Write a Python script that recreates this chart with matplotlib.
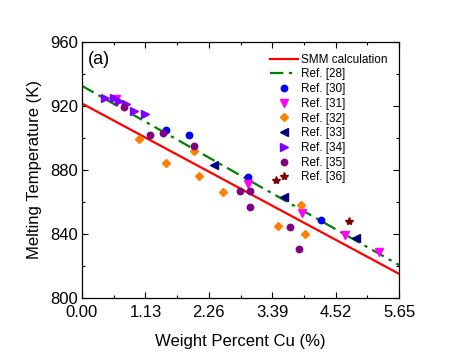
import matplotlib
matplotlib.use("Agg")
import matplotlib.pyplot as plt
from matplotlib.ticker import MultipleLocator, FixedLocator
import numpy as np

plt.rcParams['font.family'] = ['Liberation Sans', 'DejaVu Sans']

# Lines (endpoints)
smm_x = [0.0, 5.65]
smm_y = [921.5, 815.0]
ref28_x = [0.0, 5.65]
ref28_y = [932.5, 820.5]

# Scatter data
ref30_x = [1.50, 1.91, 2.96, 4.25]
ref30_y = [905.0, 902.0, 875.5, 848.5]
ref31_x = [0.60, 2.95, 3.92, 4.68, 5.29]
ref31_y = [924.5, 871.0, 853.0, 839.0, 828.5]
ref32_x = [1.02, 1.49, 2.00, 2.09, 2.51, 3.49, 3.90, 3.98]
ref32_y = [899.0, 884.0, 891.5, 876.0, 866.0, 845.0, 858.0, 840.0]
ref33_x = [2.36, 3.60, 4.88]
ref33_y = [883.0, 863.0, 837.5]
ref34_x = [0.41, 0.57, 0.66, 0.78, 0.92, 1.13]
ref34_y = [925.0, 925.0, 923.0, 921.0, 917.0, 915.0]
ref35_x = [0.75, 1.21, 1.44, 2.00, 2.82, 3.00, 3.00, 3.70, 3.87]
ref35_y = [919.5, 902.0, 903.0, 895.0, 867.0, 867.0, 856.5, 844.0, 830.5]
ref36_x = [3.45, 4.75]
ref36_y = [873.5, 848.0]

xticks = [0.00, 1.13, 2.26, 3.39, 4.52, 5.65]
xticklabels = ["0.00", "1.13", "2.26", "3.39", "4.52", "5.65"]
yticks = [800, 840, 880, 920, 960]

fig = plt.figure(figsize=(4.63, 3.58), dpi=100)
ax = fig.add_axes([0.177, 0.168, 0.685, 0.715])

ax.plot(smm_x, smm_y, color='#FF0000', lw=1.6, label='SMM calculation')
ax.plot(ref28_x, ref28_y, color='#008000', lw=1.6, ls=(0, (6, 2.5, 1.5, 2.5)), label='Ref. [28]')

ms = 4.6
ax.plot(ref30_x, ref30_y, 'o', color='#0000FF', ms=ms, ls='none', label='Ref. [30]')
ax.plot(ref31_x, ref31_y, 'v', color='#FF00FF', ms=ms + 0.5, ls='none', label='Ref. [31]')
ax.plot(ref32_x, ref32_y, 'D', color='#FF8000', ms=ms - 0.8, ls='none', label='Ref. [32]')
ax.plot(ref33_x, ref33_y, '<', color='#000080', ms=ms + 0.5, ls='none', label='Ref. [33]')
ax.plot(ref34_x, ref34_y, '>', color='#8000FF', ms=ms + 0.5, ls='none', label='Ref. [34]')
ax.plot(ref35_x, ref35_y, 'o', color='#800080', ms=ms, ls='none', label='Ref. [35]')
ax.plot(ref36_x, ref36_y, '*', color='#800000', ms=ms + 1.5, ls='none', label='Ref. [36]')

ax.set_xlim(0, 5.65)
ax.set_ylim(800, 960)
ax.xaxis.set_major_locator(FixedLocator(xticks))
ax.set_xticklabels(xticklabels)
ax.xaxis.set_minor_locator(FixedLocator([0.565 + 1.13 * i for i in range(5)]))
ax.yaxis.set_major_locator(FixedLocator(yticks))
ax.yaxis.set_minor_locator(MultipleLocator(20))
ax.tick_params(which='both', direction='in', top=True, right=True, labelsize=12, width=0.8)
ax.tick_params(which='major', length=4)
ax.tick_params(which='minor', length=2.5)
ax.tick_params(axis='x', pad=5)
ax.tick_params(axis='y', pad=2.5)
for s in ax.spines.values():
    s.set_linewidth(0.9)

ax.set_xlabel('Weight Percent Cu (%)', fontsize=12, labelpad=10)
ax.set_ylabel('Melting Temperature (K)', fontsize=12, labelpad=6)
ax.text(0.02, 0.965, '(a)', transform=ax.transAxes, fontsize=13, va='top', ha='left')

ax.legend(loc='upper right', frameon=False, fontsize=8.5, handlelength=2.4,
          handletextpad=0.2, labelspacing=0.23, bbox_to_anchor=(1.0, 1.0),
          borderaxespad=0.6)

fig.savefig('out.png', dpi=100)
